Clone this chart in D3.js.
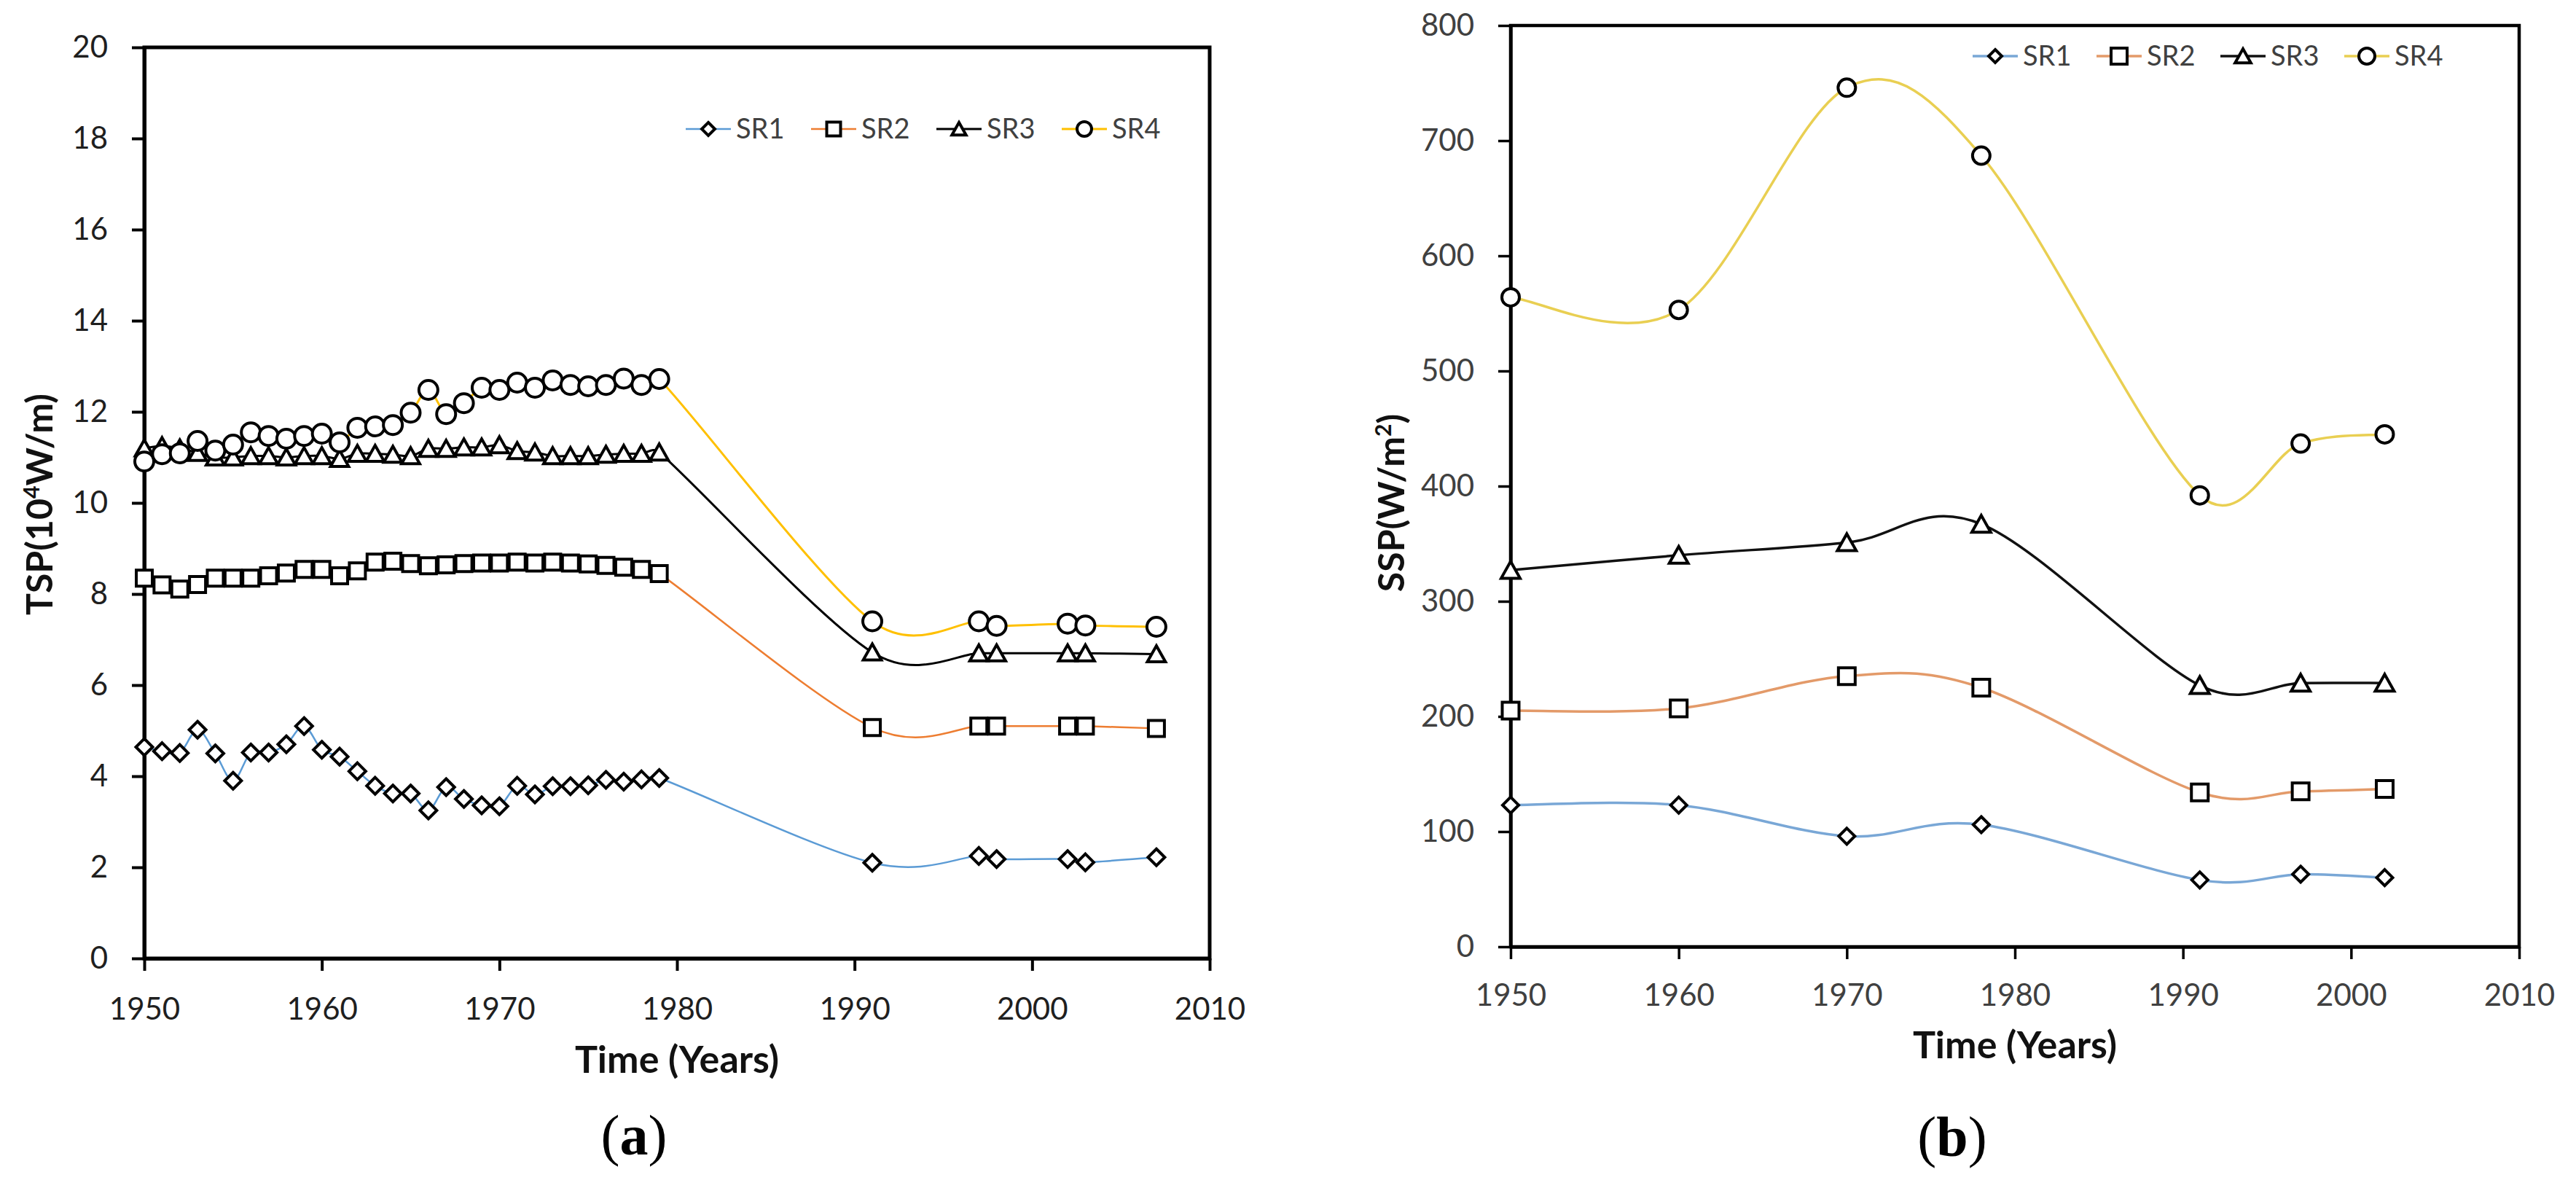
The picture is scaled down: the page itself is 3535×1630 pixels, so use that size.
<!DOCTYPE html>
<html>
<head>
<meta charset="utf-8">
<script src="https://cdn.jsdelivr.net/npm/d3@7"></script>
<style>
  html, body { margin: 0; padding: 0; background: #fff; }
  svg { display: block; }
</style>
</head>
<body>
<svg id="chart" width="3535" height="1630"></svg>
<script>
// ---- data, panel (a): TSP ----
var yearsA = [1950, 1951, 1952, 1953, 1954, 1955, 1956, 1957, 1958, 1959,
              1960, 1961, 1962, 1963, 1964, 1965, 1966, 1967, 1968, 1969,
              1970, 1971, 1972, 1973, 1974, 1975, 1976, 1977, 1978, 1979,
              1991, 1997, 1998, 2002, 2003, 2007];
var sr1A = [4.64, 4.55, 4.51, 5.02, 4.50, 3.90, 4.52, 4.52, 4.70, 5.10,
            4.58, 4.43, 4.11, 3.79, 3.62, 3.62, 3.25, 3.76, 3.50, 3.36,
            3.34, 3.79, 3.60, 3.78, 3.78, 3.80, 3.92, 3.88, 3.93, 3.96,
            2.10, 2.25, 2.18, 2.18, 2.11, 2.22];
var sr2A = [8.35, 8.20, 8.11, 8.21, 8.35, 8.35, 8.35, 8.40, 8.46, 8.54,
            8.54, 8.40, 8.51, 8.70, 8.72, 8.67, 8.62, 8.64, 8.67, 8.68,
            8.68, 8.70, 8.68, 8.70, 8.68, 8.66, 8.63, 8.59, 8.54, 8.45,
            5.07, 5.10, 5.10, 5.10, 5.10, 5.05];
var sr3A = [11.20, 11.25, 11.20, 11.10, 11.00, 11.00, 11.03, 11.03, 11.00, 11.03,
            11.03, 10.97, 11.08, 11.08, 11.06, 11.03, 11.19, 11.19, 11.22, 11.22,
            11.27, 11.14, 11.11, 11.03, 11.03, 11.03, 11.06, 11.08, 11.08, 11.11,
            6.72, 6.70, 6.70, 6.70, 6.70, 6.68];
var sr4A = [10.91, 11.07, 11.09, 11.36, 11.15, 11.28, 11.55, 11.47, 11.41, 11.47,
            11.52, 11.33, 11.65, 11.68, 11.71, 11.98, 12.48, 11.95, 12.19, 12.53,
            12.48, 12.64, 12.53, 12.69, 12.59, 12.56, 12.59, 12.73, 12.59, 12.72,
            7.40, 7.40, 7.30, 7.35, 7.31, 7.28];

// ---- data, panel (b): SSP ----
var yearsB = [1950, 1960, 1970, 1978, 1991, 1997, 2002];
var sr1B = [123, 123, 96, 106, 58, 63, 60];
var sr2B = [205, 207, 235, 225, 134, 135, 137];
var sr3B = [327, 340, 351, 367, 227, 229, 229];
var sr4B = [564, 553, 746, 687, 392, 437, 445];

// ---- ticks and labels ----
var xTicks = [1950, 1960, 1970, 1980, 1990, 2000, 2010];
var yTicksA = [0, 2, 4, 6, 8, 10, 12, 14, 16, 18, 20];
var yTicksB = [0, 100, 200, 300, 400, 500, 600, 700, 800];
var seriesNames = ["SR1", "SR2", "SR3", "SR4"];
var markerTypes = ["diamond", "square", "triangle", "circle"];

var svg = d3.select("#chart");
svg.append("rect").attr("width", 3535).attr("height", 1630).attr("fill", "#fff");

// spreadsheet-style smoothing: bezier with tangents (P2-P0)/6, capped at
// half the segment length so close points do not make loops
function SheetSmooth(context) { this._context = context; }
SheetSmooth.prototype = {
  areaStart: function () {}, areaEnd: function () {},
  lineStart: function () { this._pts = []; },
  point: function (x, y) { this._pts.push([+x, +y]); },
  lineEnd: function () {
    var p = this._pts, c = this._context, n = p.length, i;
    if (!n) return;
    function dist(a, b) { return Math.hypot(b[0] - a[0], b[1] - a[1]); }
    c.moveTo(p[0][0], p[0][1]);
    for (i = 0; i < n - 1; i++) {
      var p0 = p[Math.max(i - 1, 0)], p1 = p[i], p2 = p[i + 1], p3 = p[Math.min(i + 2, n - 1)];
      var d12 = dist(p1, p2), d02 = dist(p0, p2), d13 = dist(p1, p3);
      var f1 = d02 > 0 ? Math.min(1 / 6, 0.5 * d12 / d02) : 0;
      var f2 = d13 > 0 ? Math.min(1 / 6, 0.5 * d12 / d13) : 0;
      c.bezierCurveTo(p1[0] + f1 * (p2[0] - p0[0]), p1[1] + f1 * (p2[1] - p0[1]),
                      p2[0] - f2 * (p3[0] - p1[0]), p2[1] - f2 * (p3[1] - p1[1]),
                      p2[0], p2[1]);
    }
  }
};
function sheetSmooth(context) { return new SheetSmooth(context); }

// marker outline path, centred on 0,0
function markerPath(type, s) {
  var h = s / 2;
  if (type === "square") return "M" + (-h) + "," + (-h) + "H" + h + "V" + h + "H" + (-h) + "Z";
  if (type === "diamond") return "M0," + (-h) + "L" + h + ",0L0," + h + "L" + (-h) + ",0Z";
  return "M0," + (-h) + "L" + (h * 1.08) + "," + (h * 0.92) + "L" + (-h * 1.08) + "," + (h * 0.92) + "Z";
}

function drawMarker(g, type, x, y, o) {
  if (type === "circle") {
    g.append("circle").attr("cx", x).attr("cy", y).attr("r", o.size[type] / 2)
      .attr("fill", "#fff").attr("stroke", "#000").attr("stroke-width", o.mw);
  } else {
    g.append("path").attr("d", markerPath(type, o.size[type]))
      .attr("transform", "translate(" + x + "," + y + ")")
      .attr("fill", "#fff").attr("stroke", "#000").attr("stroke-width", o.mw)
      .attr("stroke-linejoin", "miter");
  }
}

function drawPanel(o) {
  var g = svg.append("g");
  var x = d3.scaleLinear().domain([1950, 2010]).range([o.left, o.right]);
  var y = d3.scaleLinear().domain(o.yDomain).range([o.bottom, o.top]);

  // plot frame
  g.append("rect").attr("x", o.left).attr("y", o.top)
    .attr("width", o.right - o.left).attr("height", o.bottom - o.top)
    .attr("fill", "none").attr("stroke", "#000").attr("stroke-width", o.aw);

  // axes
  var gx = g.append("g").attr("transform", "translate(0," + o.bottom + ")")
    .call(d3.axisBottom(x).tickValues(xTicks).tickFormat(d3.format("d"))
      .tickSize(17).tickSizeOuter(0).tickPadding(o.xPad));
  var gy = g.append("g").attr("transform", "translate(" + o.left + ",0)")
    .call(d3.axisLeft(y).tickValues(o.yTicks).tickFormat(d3.format("d"))
      .tickSize(17).tickSizeOuter(0).tickPadding(o.yPad));
  [gx, gy].forEach(function (a) {
    a.select(".domain").attr("stroke", "#000").attr("stroke-width", o.aw);
    a.selectAll(".tick line").attr("stroke", "#000").attr("stroke-width", o.aw - 1);
    a.selectAll(".tick text").attr("font-family", "Lato, sans-serif")
      .attr("font-size", 42).attr("fill", o.textColor);
  });

  // series: smoothed line first, then markers (legend order)
  var line = d3.line().curve(sheetSmooth);
  o.series.forEach(function (vals, i) {
    var pts = o.years.map(function (yr, j) { return [x(yr), y(vals[j])]; });
    g.append("path").attr("d", line(pts))
      .attr("fill", "none").attr("stroke", o.colors[i]).attr("stroke-width", o.lw[i]);
    var gm = g.append("g");
    pts.forEach(function (p) { drawMarker(gm, markerTypes[i], p[0], p[1], o); });
  });

  // legend
  var lg = g.append("g");
  seriesNames.forEach(function (name, i) {
    var cx = o.legendX + i * o.legendStep;
    lg.append("line").attr("x1", cx - 31).attr("x2", cx + 31)
      .attr("y1", o.legendY).attr("y2", o.legendY)
      .attr("stroke", o.colors[i]).attr("stroke-width", o.lw[i]);
    drawMarker(lg, markerTypes[i], cx, o.legendY, {size: o.legendSize, mw: o.mw});
    lg.append("text").attr("x", cx + 38).attr("y", o.legendY + 13)
      .attr("font-family", "Lato, sans-serif").attr("font-size", 38)
      .attr("fill", o.legendColor).text(name);
  });

  // x title
  g.append("text").attr("x", (o.left + o.right) / 2).attr("y", o.xTitleY)
    .attr("text-anchor", "middle").attr("font-family", "Lato, sans-serif")
    .attr("font-weight", "bold").attr("font-size", 52).attr("fill", "#111")
    .text("Time (Years)");

  // y title with superscript
  var yt = g.append("text")
    .attr("transform", "translate(" + o.yTitleX + "," + o.yTitleY + ") rotate(-90)")
    .attr("text-anchor", "middle").attr("font-family", "Lato, sans-serif")
    .attr("font-weight", "bold").attr("font-size", 50).attr("fill", "#111");
  yt.append("tspan").text(o.yTitle[0]);
  yt.append("tspan").attr("font-size", 30).attr("baseline-shift", "super").text(o.yTitle[1]);
  yt.append("tspan").text(o.yTitle[2]);

  // panel letter
  var pl = g.append("text").attr("x", o.letterX).attr("y", o.letterY)
    .attr("text-anchor", "middle").attr("font-family", "'Liberation Serif', 'Times New Roman', serif")
    .attr("font-size", 78).attr("fill", "#000");
  pl.append("tspan").text("(");
  pl.append("tspan").attr("font-weight", "bold").text(o.letter);
  pl.append("tspan").text(")");
}

drawPanel({
  left: 198, right: 1660, top: 65, bottom: 1315,
  yDomain: [0, 20], yTicks: yTicksA, years: yearsA,
  series: [sr1A, sr2A, sr3A, sr4A],
  colors: ["#5B9BD5", "#ED7D31", "#000000", "#FFC000"],
  lw: [2.5, 2.5, 3, 3],
  size: {circle: 26, square: 22, triangle: 23, diamond: 23},
  legendSize: {circle: 20, square: 19, triangle: 18, diamond: 18},
  mw: 4, aw: 5, xPad: 37, yPad: 33, textColor: "#1f1f1f",
  legendX: 972, legendStep: 172, legendY: 177, legendColor: "#404040",
  xTitleY: 1472, yTitleX: 72, yTitleY: 692, yTitle: ["TSP(10", "4", "W/m)"],
  letter: "a", letterX: 870, letterY: 1584
});

drawPanel({
  left: 2073, right: 3457, top: 35, bottom: 1299,
  yDomain: [0, 800], yTicks: yTicksB, years: yearsB,
  series: [sr1B, sr2B, sr3B, sr4B],
  colors: ["#79A7D6", "#E39A69", "#111111", "#E9CF52"],
  lw: [3.5, 3.5, 3.5, 3.5],
  size: {circle: 24, square: 23, triangle: 24, diamond: 22},
  legendSize: {circle: 22, square: 22, triangle: 20, diamond: 18},
  mw: 4, aw: 4.5, xPad: 34, yPad: 33, textColor: "#404040",
  legendX: 2738, legendStep: 170, legendY: 77, legendColor: "#404040",
  xTitleY: 1452, yTitleX: 1927, yTitleY: 690, yTitle: ["SSP(W/m", "2", ")"],
  letter: "b", letterX: 2679, letterY: 1586
});
</script>
</body>
</html>
